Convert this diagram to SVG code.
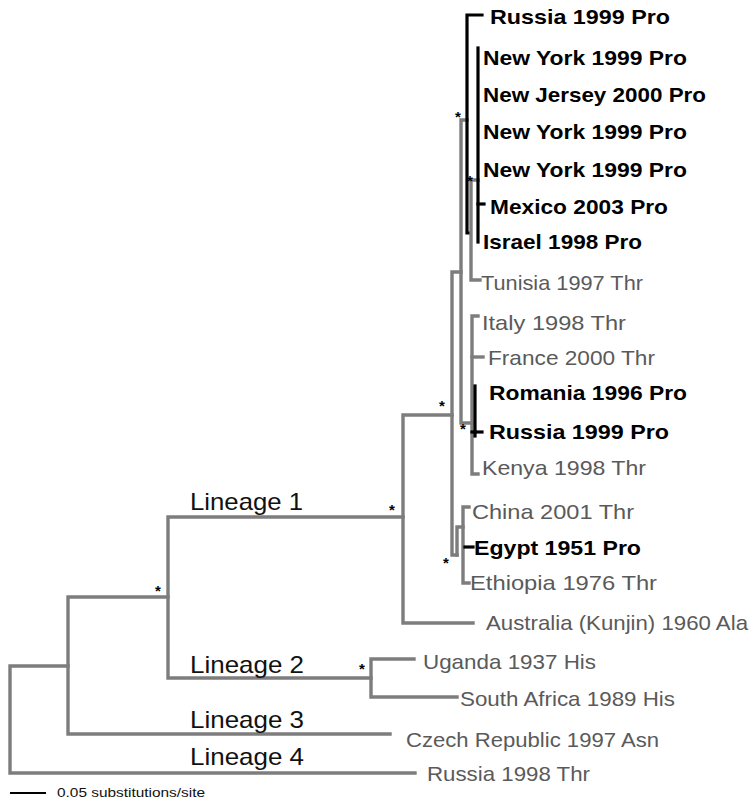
<svg xmlns="http://www.w3.org/2000/svg" width="750" height="801" viewBox="0 0 750 801">
<style>
  .g { fill: none; stroke: #7d7d7d; stroke-width: 3.4; stroke-linejoin: miter; stroke-linecap: square; }
  .k { fill: none; stroke: #000; stroke-width: 3.2; stroke-linejoin: miter; stroke-linecap: square; }
  .pro { font-family: "Liberation Sans", Arial, sans-serif; font-weight: bold; font-size: 21px; fill: #000; }
  .thr { font-family: "Liberation Sans", Arial, sans-serif; font-size: 21px; fill: #5a5a5a; }
  .lin { font-family: "Liberation Sans", Arial, sans-serif; font-size: 24px; fill: #111; }
  .ast { font-family: "Liberation Sans", Arial, sans-serif; font-size: 15px; font-weight: bold; fill: #000; }
  .scale { font-family: "Liberation Sans", Arial, sans-serif; font-size: 13px; fill: #111; }
</style>
<rect width="750" height="801" fill="#fff"/>
<g id="connectors">
  <path class="g" d="M68 666 H10 V773 H415"/>
  <path class="g" d="M168 597 H68 V734 H390"/>
  <path class="g" d="M403 517 H168 V678 H371"/>
  <path class="g" d="M414 659 H371 V697 H457"/>
  <path class="g" d="M452 415 H403 V623 H473"/>
  <path class="g" d="M461 272 H452 V555 H457"/>
  <path class="g" d="M457 555 V527 H463"/>
  <path class="g" d="M469 507 H463 V583 H469"/>
  <path class="k" d="M465 547 H473"/>
  <path class="g" d="M467 120 H461 V423 H472"/>
  <path class="g" d="M478 316 H472 V474 H478"/>
  <path class="g" d="M472 357 H483"/>
  <path class="k" d="M472 432 H475"/>
  <path class="k" d="M475 386 V436"/>
  <path class="k" d="M475 432 H482"/>
  <path class="k" d="M482 15 H467 V233 H470"/>
  <path class="g" d="M478 180 H471 V280 H480"/>
  <path class="k" d="M478 48 V242"/>
  <path class="k" d="M478 204 H484"/>
  <path d="M10 793 H46" stroke="#000" stroke-width="2" fill="none"/>
</g>
<g id="support">
  <text class="ast" x="455" y="122">*</text>
  <text class="ast" x="467" y="186">*</text>
  <text class="ast" x="439" y="411">*</text>
  <text class="ast" x="460" y="434">*</text>
  <text class="ast" x="443" y="568">*</text>
  <text class="ast" x="389" y="515">*</text>
  <text class="ast" x="155" y="596">*</text>
  <text class="ast" x="359" y="674">*</text>
</g>
<g id="n-russia1999a"><text class="pro" x="490" y="24" textLength="180" lengthAdjust="spacingAndGlyphs">Russia 1999 Pro</text></g>
<g id="n-newyork1"><text class="pro" x="483" y="65" textLength="204" lengthAdjust="spacingAndGlyphs">New York 1999 Pro</text></g>
<g id="n-newjersey"><text class="pro" x="483" y="102" textLength="223" lengthAdjust="spacingAndGlyphs">New Jersey 2000 Pro</text></g>
<g id="n-newyork2"><text class="pro" x="483" y="139" textLength="204" lengthAdjust="spacingAndGlyphs">New York 1999 Pro</text></g>
<g id="n-newyork3"><text class="pro" x="483" y="177" textLength="204" lengthAdjust="spacingAndGlyphs">New York 1999 Pro</text></g>
<g id="n-mexico"><text class="pro" x="490" y="214" textLength="178" lengthAdjust="spacingAndGlyphs">Mexico 2003 Pro</text></g>
<g id="n-israel"><text class="pro" x="483" y="249" textLength="159" lengthAdjust="spacingAndGlyphs">Israel 1998 Pro</text></g>
<g id="n-tunisia"><text class="thr" x="481" y="290" textLength="162" lengthAdjust="spacingAndGlyphs">Tunisia 1997 Thr</text></g>
<g id="n-italy"><text class="thr" x="482" y="330" textLength="144" lengthAdjust="spacingAndGlyphs">Italy 1998 Thr</text></g>
<g id="n-france"><text class="thr" x="488" y="365" textLength="167" lengthAdjust="spacingAndGlyphs">France 2000 Thr</text></g>
<g id="n-romania"><text class="pro" x="489" y="400" textLength="198" lengthAdjust="spacingAndGlyphs">Romania 1996 Pro</text></g>
<g id="n-russia1999b"><text class="pro" x="489" y="439" textLength="180" lengthAdjust="spacingAndGlyphs">Russia 1999 Pro</text></g>
<g id="n-kenya"><text class="thr" x="482" y="475" textLength="164" lengthAdjust="spacingAndGlyphs">Kenya 1998 Thr</text></g>
<g id="n-china"><text class="thr" x="472" y="519" textLength="162" lengthAdjust="spacingAndGlyphs">China 2001 Thr</text></g>
<g id="n-egypt"><text class="pro" x="474" y="555" textLength="167" lengthAdjust="spacingAndGlyphs">Egypt 1951 Pro</text></g>
<g id="n-ethiopia"><text class="thr" x="470" y="590" textLength="187" lengthAdjust="spacingAndGlyphs">Ethiopia 1976 Thr</text></g>
<g id="n-australia"><text class="thr" x="486" y="630" textLength="262" lengthAdjust="spacingAndGlyphs">Australia (Kunjin) 1960 Ala</text></g>
<g id="n-uganda"><text class="thr" x="423" y="669" textLength="173" lengthAdjust="spacingAndGlyphs">Uganda 1937 His</text></g>
<g id="n-southafrica"><text class="thr" x="460" y="706" textLength="215" lengthAdjust="spacingAndGlyphs">South Africa 1989 His</text></g>
<g id="n-czech"><text class="thr" x="406" y="747" textLength="253" lengthAdjust="spacingAndGlyphs">Czech Republic 1997 Asn</text></g>
<g id="n-russia1998"><text class="thr" x="427" y="781" textLength="163" lengthAdjust="spacingAndGlyphs">Russia 1998 Thr</text></g>
<g id="lineages">
  <text class="lin" x="190" y="510" textLength="113" lengthAdjust="spacingAndGlyphs">Lineage 1</text>
  <text class="lin" x="190" y="673" textLength="114" lengthAdjust="spacingAndGlyphs">Lineage 2</text>
  <text class="lin" x="190" y="728" textLength="114" lengthAdjust="spacingAndGlyphs">Lineage 3</text>
  <text class="lin" x="190" y="765" textLength="114" lengthAdjust="spacingAndGlyphs">Lineage 4</text>
</g>
<g id="scalebar"><text class="scale" x="57" y="797" textLength="148" lengthAdjust="spacingAndGlyphs">0.05 substitutions/site</text></g>
</svg>
